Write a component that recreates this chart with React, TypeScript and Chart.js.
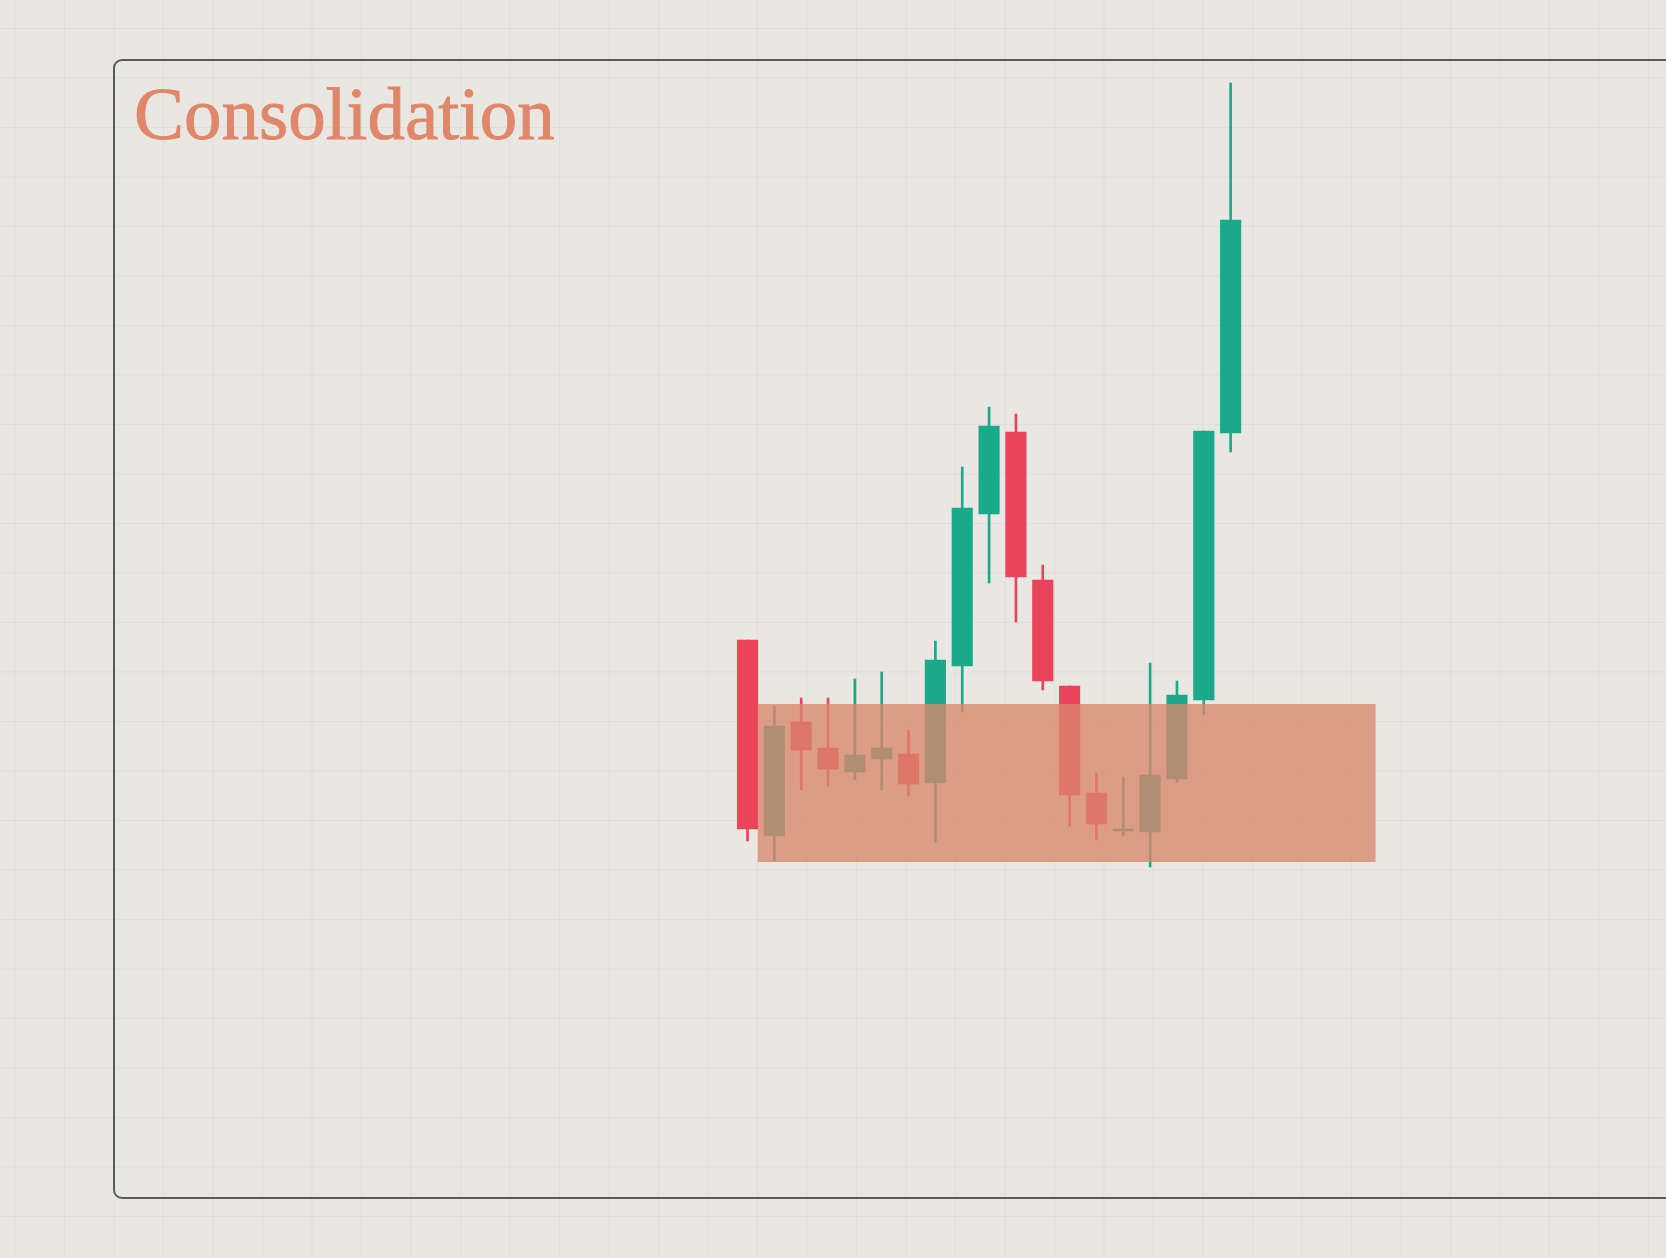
import React, { useEffect, useRef } from "react";
import { Chart, registerables } from "chart.js";

Chart.register(...registerables);

// ---- data ----
const titleText = "Consolidation";
const candleIndex = [0, 1, 2, 3, 4, 5, 6, 7, 8, 9, 10, 11, 12, 13, 14, 15, 16, 17, 18];
const opens = [136.0, 116.4, 127.8, 125.2, 122.8, 124.1, 124.6, 121.7, 133.4, 148.6, 156.8, 142.0, 131.4, 120.7, 116.9, 116.8, 122.1, 130.0, 156.7];
const highs = [136.0, 129.4, 130.2, 130.2, 132.1, 132.8, 127.0, 135.9, 153.3, 159.3, 158.6, 143.5, 131.4, 122.7, 122.3, 133.7, 131.9, 156.9, 191.7];
const lows = [115.9, 113.9, 121.0, 121.4, 122.0, 121.0, 120.4, 115.8, 128.8, 141.7, 137.8, 131.0, 117.4, 116.0, 116.4, 113.3, 121.8, 128.5, 154.8];
const closes = [117.1, 127.4, 125.0, 123.1, 124.5, 125.2, 121.6, 134.0, 149.2, 157.4, 142.3, 131.9, 120.5, 117.6, 117.1, 122.5, 130.5, 156.9, 178.0];

// consolidation zone (index units / price units)
const zoneStart = 0.382;
const zoneEnd = 23.4;
const zoneLow = 113.8;
const zoneHigh = 129.6;

// axis ranges
const xMin = -27.85;
const xMax = 34.22;
const yMin = 74.2;
const yMax = 200;

const UP = "#1aaa8b";
const DOWN = "#e8455a";
const ZONE = "rgba(218, 135, 108, 0.78)";

const zonePlugin = {
  id: "zone",
  afterDatasetsDraw(chart: any) {
    const { ctx, scales } = chart;
    const x = scales.x;
    const y = scales.y;
    const x0 = x.getPixelForValue(zoneStart);
    const x1 = x.getPixelForValue(zoneEnd);
    const y0 = y.getPixelForValue(zoneHigh);
    const y1 = y.getPixelForValue(zoneLow);
    ctx.save();
    ctx.fillStyle = ZONE;
    ctx.fillRect(x0, y0, x1 - x0, y1 - y0);
    ctx.restore();
  },
};

export default function App() {
  const canvasRef = useRef<HTMLCanvasElement | null>(null);

  useEffect(() => {
    if (!canvasRef.current) return;
    const colors = candleIndex.map((_, i) => (closes[i] >= opens[i] ? UP : DOWN));
    const chart = new Chart(canvasRef.current, {
      type: "bar",
      data: {
        datasets: [
          {
            label: "body",
            data: candleIndex.map((i) => ({ x: i, y: [opens[i], closes[i]] })) as any,
            backgroundColor: colors,
            barThickness: 20.5,
            grouped: false,
            borderWidth: 0,
          } as any,
          {
            label: "wick",
            data: candleIndex.map((i) => ({ x: i, y: [lows[i], highs[i]] })) as any,
            backgroundColor: colors,
            barThickness: 2,
            grouped: false,
            borderWidth: 0,
          } as any,
        ],
      },
      options: {
        responsive: false,
        animation: false,
        devicePixelRatio: 1,
        layout: { padding: 0 },
        plugins: {
          legend: { display: false },
          tooltip: { enabled: false },
          title: { display: false },
        },
        scales: {
          x: { type: "linear", min: xMin, max: xMax, offset: false, display: false },
          y: { type: "linear", min: yMin, max: yMax, display: false },
        },
      },
      plugins: [zonePlugin],
    });
    return () => chart.destroy();
  }, []);

  return (
    <div
      style={{
        position: "fixed",
        left: 0,
        top: 0,
        width: 1666,
        height: 1258,
        overflow: "hidden",
        backgroundColor: "#e9e7e2",
        backgroundImage:
          "linear-gradient(to right, rgba(0,0,0,0.04) 1px, transparent 1px), linear-gradient(to bottom, rgba(0,0,0,0.04) 1px, transparent 1px)",
        backgroundSize: "49.5px 49.5px",
        backgroundPosition: "14.5px 28px",
      }}
    >
      <div
        style={{
          position: "absolute",
          left: 113,
          top: 59,
          width: 1700,
          height: 1140,
          boxSizing: "border-box",
          border: "2px solid #5a5a58",
          borderRadius: 9,
        }}
      />
      <canvas
        ref={canvasRef}
        width={1666}
        height={1258}
        style={{ position: "absolute", left: 0, top: 0, width: 1666, height: 1258 }}
      />
      <div
        style={{
          position: "absolute",
          left: 134,
          top: 76,
          fontFamily: "'Liberation Serif', 'DejaVu Serif', serif",
          fontSize: 75,
          lineHeight: 1,
          color: "#e0876a",
          WebkitTextStroke: "0.9px #e0876a",
          whiteSpace: "nowrap",
        }}
      >
        {titleText}
      </div>
    </div>
  );
}
